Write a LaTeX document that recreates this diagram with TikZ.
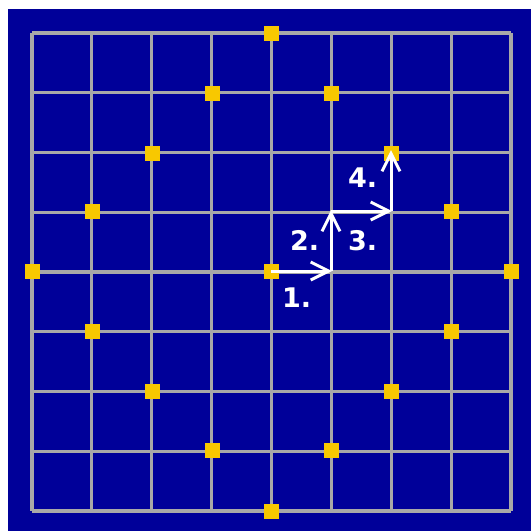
\documentclass[tikz,border=0pt]{standalone}
\usepackage{fontspec}
\setmainfont{DejaVu Sans}
\usetikzlibrary{arrows.meta}
\definecolor{bgblue}{RGB}{0,0,153}
\definecolor{gridgray}{RGB}{168,168,168}
\definecolor{dotyellow}{RGB}{248,200,0}
\tikzset{
  dot/.style={fill=dotyellow,draw=none,minimum size=15pt,inner sep=0pt,outer sep=0pt,rectangle},
  gridline/.style={draw=gridgray,line width=3.2pt},
  step arrow/.style={draw=white,line width=3pt,-{Straight Barb[length=18pt,width=18pt,line width=3pt]}},
  lbl/.style={text=white,font=\bfseries\fontsize{27}{27}\selectfont,inner sep=0pt,anchor=base west}
}
\begin{document}
\begin{tikzpicture}[x=1pt,y=-1pt]
\useasboundingbox (0,0) rectangle (531,531);
\fill[white] (0,0) rectangle (531,531);
\fill[bgblue] (8,9) rectangle (531,531);
% grid
\foreach \i in {0,...,8} {
  \draw[gridline] ({32+\i*59.875},33) -- ({32+\i*59.875},511);
  \draw[gridline] (32,{33+\i*59.75}) -- (511,{33+\i*59.75});
}
% yellow squares (diamond |x|+|y|=4 and centre)
\node[dot] (c) at (271,271) {};
\node[dot] (d0) at (271,33) {};
\node[dot] (d1) at (212,93) {};
\node[dot] (d2) at (331,93) {};
\node[dot] (d3) at (152,153) {};
\node[dot] (d4) at (391,153) {};
\node[dot] (d5) at (92,211) {};
\node[dot] (d6) at (451,211) {};
\node[dot] (d7) at (32,271) {};
\node[dot] (d8) at (511,271) {};
\node[dot] (d9) at (92,331) {};
\node[dot] (d10) at (451,331) {};
\node[dot] (d11) at (152,391) {};
\node[dot] (d12) at (391,391) {};
\node[dot] (d13) at (212,450) {};
\node[dot] (d14) at (331,450) {};
\node[dot] (d15) at (271,511) {};
% path points
\coordinate (p1) at (332,271);
\coordinate (p2) at (331,210);
\coordinate (p3) at (392,211);
\coordinate (p4) at (391,150);
\draw[step arrow] (c.center) -- (p1);
\draw[step arrow] (331,271) -- (p2);
\draw[step arrow] (331,211) -- (p3);
\draw[step arrow] (391,211) -- (p4);
% labels
\node[lbl] (l1) at (282,307) {1.};
\node[lbl] (l2) at (290,250) {2.};
\node[lbl] (l3) at (348,250) {3.};
\node[lbl] (l4) at (348,187) {4.};
\end{tikzpicture}
\end{document}
